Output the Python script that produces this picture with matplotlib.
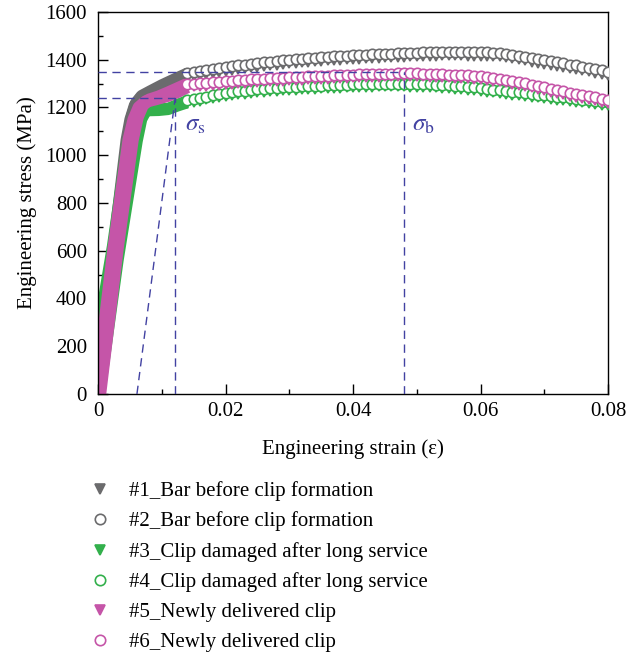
import matplotlib
matplotlib.use("Agg")
import matplotlib.pyplot as plt
from matplotlib.ticker import MultipleLocator, FuncFormatter

plt.rcParams["font.family"] = "serif"
plt.rcParams["font.serif"] = ["Liberation Serif", "DejaVu Serif"]
plt.rcParams["mathtext.fontset"] = "stix"
plt.rcParams["font.size"] = 15

# strain grid where the individual markers are visible
strain_plastic = [
    0.014, 0.015, 0.016, 0.017, 0.018, 0.019, 0.020, 0.021, 0.022, 0.023,
    0.024, 0.025, 0.026, 0.027, 0.028, 0.029, 0.030, 0.031, 0.032, 0.033,
    0.034, 0.035, 0.036, 0.037, 0.038, 0.039, 0.040, 0.041, 0.042, 0.043,
    0.044, 0.045, 0.046, 0.047, 0.048, 0.049, 0.050, 0.051, 0.052, 0.053,
    0.054, 0.055, 0.056, 0.057, 0.058, 0.059, 0.060, 0.061, 0.062, 0.063,
    0.064, 0.065, 0.066, 0.067, 0.068, 0.069, 0.070, 0.071, 0.072, 0.073,
    0.074, 0.075, 0.076, 0.077, 0.078, 0.079, 0.080,
]

# elastic part + yield knee (drawn as dense band)
strain_el_1 = [-0.0004, 0.0044, 0.0050, 0.0057, 0.0066, 0.008, 0.010, 0.012, 0.014]
stress_el_1 = [0, 1064, 1150, 1210, 1240, 1258, 1280, 1305, 1329]
strain_el_2 = [-0.0002, 0.0046, 0.0052, 0.0059, 0.0068, 0.0082, 0.010, 0.012, 0.014]
stress_el_2 = [0, 1064, 1160, 1220, 1250, 1270, 1295, 1320, 1344]
strain_el_3 = [0.0, 0.0022, 0.0046, 0.0058, 0.0068, 0.008, 0.0095, 0.011, 0.0125, 0.014]
stress_el_3 = [270, 620, 1064, 1140, 1175, 1185, 1186, 1190, 1205, 1218]
strain_el_4 = [0.0003, 0.0032, 0.0062, 0.0069, 0.0076, 0.009, 0.011, 0.0125, 0.014]
stress_el_4 = [0, 560, 1060, 1150, 1185, 1195, 1198, 1215, 1230]
strain_el_5 = [-0.0003, 0.0024, 0.0048, 0.0056, 0.0064, 0.0075, 0.009, 0.011, 0.0125, 0.014]
stress_el_5 = [0, 600, 1064, 1150, 1200, 1225, 1235, 1250, 1266, 1286]
strain_el_6 = [0.0003, 0.0030, 0.0054, 0.0062, 0.0070, 0.0080, 0.0095, 0.011, 0.0125, 0.014]
stress_el_6 = [0, 600, 1064, 1160, 1210, 1232, 1245, 1262, 1280, 1298]

# plastic part (MPa) on strain_plastic
stress_1 = [
    1329, 1333, 1337, 1341, 1345, 1349, 1353, 1357, 1361, 1364,
    1368, 1371, 1374, 1377, 1380, 1382, 1385, 1387, 1389, 1391,
    1393, 1395, 1397, 1399, 1400, 1402, 1403, 1405, 1406, 1408,
    1409, 1410, 1411, 1412, 1413, 1414, 1415, 1416, 1417, 1417,
    1418, 1418, 1418, 1418, 1417, 1417, 1416, 1416, 1415, 1414,
    1410, 1406, 1402, 1397, 1392, 1387, 1382, 1378, 1374, 1370,
    1365, 1361, 1356, 1351, 1346, 1340, 1334,
]
stress_2 = [
    1344, 1348, 1352, 1356, 1360, 1364, 1368, 1372, 1376, 1379,
    1383, 1386, 1389, 1392, 1395, 1397, 1400, 1402, 1404, 1406,
    1408, 1410, 1412, 1414, 1415, 1417, 1418, 1420, 1421, 1423,
    1424, 1425, 1426, 1427, 1428, 1429, 1430, 1431, 1432, 1432,
    1433, 1433, 1433, 1433, 1432, 1432, 1431, 1431, 1430, 1429,
    1425, 1421, 1417, 1412, 1407, 1402, 1397, 1393, 1389, 1385,
    1380, 1376, 1371, 1366, 1361, 1355, 1349,
]
stress_3 = [
    1218, 1224, 1229, 1234, 1239, 1243, 1247, 1251, 1255, 1258,
    1261, 1264, 1266, 1268, 1270, 1272, 1274, 1275, 1277, 1278,
    1279, 1280, 1281, 1282, 1283, 1284, 1285, 1286, 1287, 1287,
    1288, 1288, 1288, 1288, 1288, 1287, 1287, 1286, 1285, 1284,
    1283, 1281, 1279, 1277, 1275, 1272, 1269, 1266, 1263, 1260,
    1257, 1254, 1251, 1248, 1245, 1242, 1239, 1236, 1233, 1230,
    1227, 1224, 1221, 1218, 1215, 1212, 1209,
]
stress_4 = [
    1230, 1236, 1241, 1246, 1251, 1255, 1259, 1263, 1267, 1270,
    1273, 1276, 1278, 1280, 1282, 1284, 1286, 1287, 1289, 1290,
    1291, 1292, 1293, 1294, 1295, 1296, 1297, 1298, 1299, 1299,
    1300, 1300, 1300, 1300, 1300, 1299, 1299, 1298, 1297, 1296,
    1295, 1293, 1291, 1289, 1287, 1284, 1281, 1278, 1275, 1272,
    1269, 1266, 1263, 1260, 1257, 1254, 1251, 1248, 1245, 1242,
    1239, 1236, 1233, 1230, 1227, 1224, 1221,
]
stress_5 = [
    1286, 1288, 1290, 1292, 1294, 1296, 1298, 1300, 1302, 1304,
    1306, 1307, 1309, 1310, 1312, 1313, 1315, 1316, 1317, 1318,
    1319, 1320, 1321, 1322, 1324, 1325, 1326, 1327, 1328, 1329,
    1329, 1330, 1330, 1331, 1331, 1331, 1331, 1330, 1329, 1328,
    1327, 1326, 1325, 1324, 1322, 1320, 1318, 1316, 1313, 1309,
    1305, 1300, 1295, 1290, 1284, 1278, 1272, 1266, 1260, 1255,
    1250, 1245, 1240, 1235, 1230, 1224, 1218,
]
stress_6 = [
    1298, 1300, 1302, 1304, 1306, 1308, 1310, 1312, 1314, 1316,
    1318, 1319, 1321, 1322, 1324, 1325, 1327, 1328, 1329, 1330,
    1331, 1332, 1333, 1334, 1336, 1337, 1338, 1339, 1340, 1341,
    1341, 1342, 1342, 1343, 1343, 1343, 1343, 1342, 1341, 1340,
    1339, 1338, 1337, 1336, 1334, 1332, 1330, 1328, 1325, 1321,
    1317, 1312, 1307, 1302, 1296, 1290, 1284, 1278, 1272, 1267,
    1262, 1257, 1252, 1247, 1242, 1236, 1230,
]

labels = [
    "#1_Bar before clip formation",
    "#2_Bar before clip formation",
    "#3_Clip damaged after long service",
    "#4_Clip damaged after long service",
    "#5_Newly delivered clip",
    "#6_Newly delivered clip",
]

# yield / tensile strength guide values
sigma_s = 1240
sigma_b = 1350
strain_s = 0.0121
strain_b = 0.048
offset_start = 0.0061

gray = "#6b6b6d"
green = "#33b04c"
magenta = "#c555a8"
guide = "#4242a2"

series = [
    (strain_el_1, stress_el_1, stress_1, gray, "v", gray, 8),
    (strain_el_2, stress_el_2, stress_2, gray, "o", "white", 8),
    (strain_el_3, stress_el_3, stress_3, green, "v", green, 7.5),
    (strain_el_4, stress_el_4, stress_4, green, "o", "white", 7.5),
    (strain_el_5, stress_el_5, stress_5, magenta, "v", magenta, 9),
    (strain_el_6, stress_el_6, stress_6, magenta, "o", "white", 9),
]

fig = plt.figure(figsize=(6.41, 6.55), dpi=100)
ax = fig.add_axes([0.153, 0.3985, 0.7955, 0.5832])

handles = []
for (sx, sy, py, col, mk, fc, lw), lab in zip(series, labels):
    ax.plot(sx, sy, color=col, lw=lw, solid_capstyle="butt", zorder=2)
    h, = ax.plot(strain_plastic, py, ls="none", marker=mk, ms=7.5,
                 mfc=fc, mec=col, mew=1.2, label=lab, zorder=3)
    handles.append(h)

# guide lines
dash = dict(color=guide, lw=1.0, dashes=(6, 4), zorder=4)
ax.plot([0, strain_b], [sigma_b, sigma_b], **dash)
ax.plot([strain_b, strain_b], [0, sigma_b], **dash)
ax.plot([0, strain_s], [sigma_s, sigma_s], **dash)
ax.plot([strain_s, strain_s], [0, sigma_s], **dash)
ax.plot([offset_start, strain_s], [0, sigma_s], **dash)

ax.text(0.0136, 1125, r"$\sigma_{\mathrm{s}}$", color=guide, fontsize=18, va="center")
ax.text(0.0493, 1125, r"$\sigma_{\mathrm{b}}$", color=guide, fontsize=18, va="center")

ax.set_xlim(0, 0.08)
ax.set_ylim(0, 1600)
ax.xaxis.set_major_locator(MultipleLocator(0.02))
ax.xaxis.set_minor_locator(MultipleLocator(0.01))
ax.yaxis.set_major_locator(MultipleLocator(200))
ax.yaxis.set_minor_locator(MultipleLocator(100))
ax.xaxis.set_major_formatter(FuncFormatter(lambda v, p: "0" if v == 0 else f"{v:.2f}"))
ax.tick_params(which="major", direction="in", length=7, width=1.0, top=False, right=False)
ax.tick_params(which="minor", direction="in", length=3.5, width=1.0, top=False, right=False)
ax.tick_params(axis="x", pad=6)
ax.tick_params(axis="y", pad=8)
for s in ax.spines.values():
    s.set_linewidth(1.0)

ax.set_xlabel("Engineering strain (ε)", labelpad=13)
ax.set_ylabel("Engineering stress (MPa)", labelpad=6)

fig.legend(handles=handles, loc="upper left", bbox_to_anchor=(0.126, 0.278),
           frameon=False, labelspacing=0.5, handlelength=1.0, handletextpad=0.9,
           borderaxespad=0, markerscale=1.0)

fig.savefig("out.png", dpi=100)
